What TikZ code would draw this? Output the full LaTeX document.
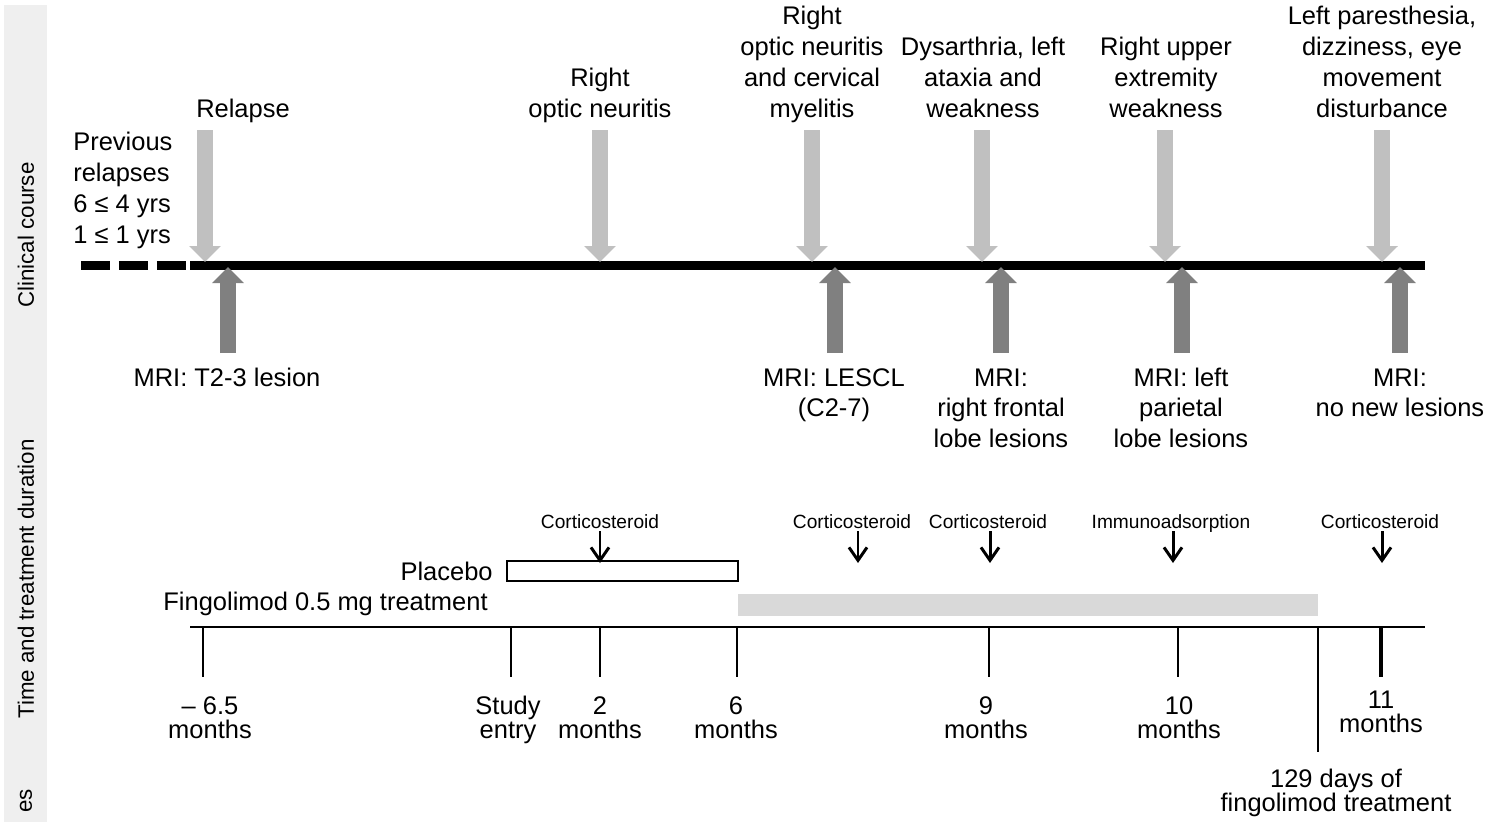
\documentclass[tikz,border=0pt]{standalone}
\usepackage{fontspec}
\setmainfont{Liberation Sans}
\usetikzlibrary{arrows.meta}
\definecolor{bandgray}{HTML}{EFEFEF}
\definecolor{lightarr}{HTML}{C0C0C0}
\definecolor{darkarr}{HTML}{808080}
\definecolor{bargray}{HTML}{D9D9D9}
\newcommand{\topstrut}{\rule{0pt}{10.4pt}}
\newcommand{\tightlines}{\lineskiplimit=-20pt\relax\lineskip=0pt\relax}
\begin{document}
\begin{tikzpicture}[x=0.02cm,y=-0.02cm,
 lbl/.style={font=\fontsize{14.5}{17.6}\selectfont, align=center, inner sep=0pt},
 toplbl/.style={lbl, anchor=south},
 botlbl/.style={lbl, anchor=north},
 ticklbl/.style={font=\fontsize{14.5}{13.7}\selectfont\tightlines, align=center, inner sep=0pt, anchor=north},
 small/.style={font=\fontsize{10.9}{13}\selectfont, inner sep=0pt, anchor=base},
 side/.style={font=\fontsize{12.7}{15}\selectfont, rotate=90, inner sep=0pt},
 relapsearrow/.style={draw=lightarr, line width=0.32cm, -{Triangle[length=0.32cm,width=0.62cm]}},
 mriarrow/.style={draw=darkarr, line width=0.32cm, -{Triangle[length=0.32cm,width=0.62cm]}},
 treatarrow/.style={draw=black, line width=1.7pt, -{Straight Barb[length=0.26cm,width=0.36cm]}},
 axisline/.style={line width=1.2pt},
 tickline/.style={line width=1.2pt},
 timeline/.style={line width=0.18cm},
]
\useasboundingbox (0,0) rectangle (1489,822);
% side band
\fill[bandgray] (4,5) rectangle (47,822);
\node[side] (sideA) at (26,235) {Clinical course};
\node[side] (sideB) at (26,579) {Time and treatment duration};
\node[side, anchor=east] (sideC) at (26,789) {es};

% main timeline
\coordinate (tl0) at (81,265);
\coordinate (tl1) at (190,265);
\coordinate (tl2) at (1425,265);
\draw[timeline, dash pattern=on 0.58cm off 0.18cm] (tl0) -- (tl1);
\draw[timeline] (tl1) -- (tl2);

% relapse arrows (light)
\foreach \n/\x in {r1/205, r2/600, r3/812, r4/982, r5/1165, r6/1382}{
  \coordinate (\n top) at (\x,130);
  \coordinate (\n tip) at (\x,262);
  \draw[relapsearrow] (\n top) -- (\n tip);
}
% MRI arrows (dark)
\foreach \n/\x in {m1/228, m2/835, m3/1001, m4/1182, m5/1400}{
  \coordinate (\n bot) at (\x,353);
  \coordinate (\n tip) at (\x,267);
  \draw[mriarrow] (\n bot) -- (\n tip);
}

% top labels
\node[lbl, align=left, anchor=south west] (prev) at (73,253) {Previous\\relapses\\6 ≤ 4 yrs\\1 ≤ 1 yrs\strut};
\node[toplbl] (t1) at (243,127) {Relapse\strut};
\node[toplbl] (t2) at (600,127) {Right\\optic neuritis\strut};
\node[toplbl] (t3) at (812,127) {Right\\optic neuritis\\and cervical\\myelitis\strut};
\node[toplbl] (t4) at (983,127) {Dysarthria, left\\ataxia and\\weakness\strut};
\node[toplbl] (t5) at (1166,127) {Right upper\\extremity\\weakness\strut};
\node[toplbl] (t6) at (1382,127) {Left paresthesia,\\dizziness, eye\\movement\\disturbance\strut};

% MRI labels
\node[botlbl] (b1) at (227,364) {\strut MRI: T2-3 lesion};
\node[botlbl] (b2) at (834,364) {\strut MRI: LESCL\\(C2-7)};
\node[botlbl] (b3) at (1001,364) {\strut MRI:\\right frontal\\lobe lesions};
\node[botlbl] (b4) at (1181,364) {\strut MRI: left\\parietal\\lobe lesions};
\node[botlbl] (b5) at (1400,364) {\strut MRI:\\no new lesions};

% treatment bars
\coordinate (plA) at (507,561);
\coordinate (plB) at (738,581);
\draw[line width=1.2pt] (plA) rectangle (plB);
\coordinate (fgA) at (738,594);
\coordinate (fgB) at (1318,616);
\fill[bargray] (fgA) rectangle (fgB);
\node[lbl, anchor=base east] (placebo) at (493,580) {Placebo};
\node[lbl, anchor=base east] (fingo) at (488,610) {Fingolimod 0.5 mg treatment};

% treatment arrows
\foreach \n/\x/\t in {c1/600/Corticosteroid, c2/852/Corticosteroid, c3/988/Corticosteroid, c4/1171/Immunoadsorption, c5/1380/Corticosteroid}{
  \node[small] (\n) at (\x,528) {\t};
}
\foreach \n/\x in {a1/600, a2/858, a3/990, a4/1173, a5/1382}{
  \coordinate (\n top) at (\x,531);
  \coordinate (\n tip) at (\x,563);
  \draw[treatarrow] (\n top) -- (\n tip);
}

% time axis
\coordinate (ax0) at (190,627);
\coordinate (ax1) at (1425,627);
\draw[axisline] (ax0) -- (ax1);
\foreach \n/\x in {k1/203, k2/511, k3/600, k4/737, k5/989, k6/1178}{
  \coordinate (\n) at (\x,627);
  \coordinate (\n e) at (\x,677);
  \draw[tickline] (\n) -- (\n e);
}
\coordinate (k7) at (1381,627);
\coordinate (k7e) at (1381,677);
\draw[line width=1.8pt] (k7) -- (k7e);
\coordinate (k8) at (1318,627);
\coordinate (k8e) at (1318,752);
\draw[tickline] (k8) -- (k8e);

% tick labels
\node[ticklbl] (l1) at (210,696) {\topstrut – 6.5\\months};
\node[ticklbl] (l2) at (508,696) {\topstrut Study\\entry};
\node[ticklbl] (l3) at (600,696) {\topstrut 2\\months};
\node[ticklbl] (l4) at (736,696) {\topstrut 6\\months};
\node[ticklbl] (l5) at (986,696) {\topstrut 9\\months};
\node[ticklbl] (l6) at (1179,696) {\topstrut 10\\months};
\node[ticklbl] (l7) at (1381,690) {\topstrut 11\\months};
\node[ticklbl] (l8) at (1336,769) {\topstrut 129 days of\\fingolimod treatment};
\end{tikzpicture}
\end{document}
